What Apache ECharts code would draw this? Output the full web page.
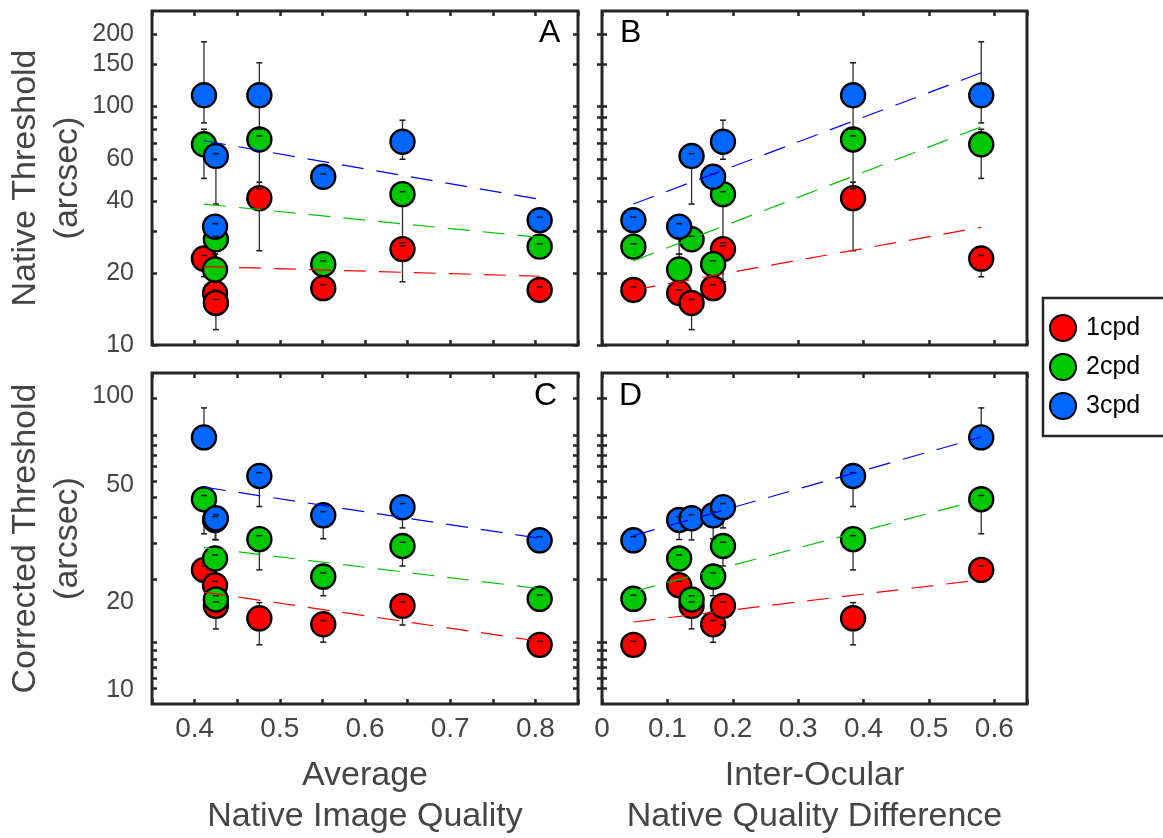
<!DOCTYPE html>
<html><head><meta charset="utf-8">
<script src="https://cdn.jsdelivr.net/npm/echarts@6/dist/echarts.min.js"></script>
<style>html,body{margin:0;padding:0;background:#fff}#c{width:1163px;height:838px}</style>
</head><body><div id="c"></div>
<script>
// ---------------- data ----------------
const seriesNames = ['1cpd', '2cpd', '3cpd'];
// one entry per subject
const avgQuality   = [0.411, 0.424, 0.425, 0.476, 0.551, 0.644, 0.805];
const ioDifference = [0.580, 0.118, 0.137, 0.384, 0.170, 0.185, 0.048];

const native1 = [23.0, 16.5, 15.0, 41.2, 17.3, 25.2, 17.0];
const native2 = [69.2, 20.7, 27.7, 72.5, 21.8, 42.8, 25.8];
const native3 = [111, 31.3, 61.8, 111, 50.6, 70.9, 33.3];
const nativeLo1 = [19.3, 16.5, 11.6, 24.8, 17.3, 18.4, 17.0];
const nativeHi1 = [23.7, 17.0, 15.5, 48.0, 17.9, 26.0, 17.5];
const nativeLo2 = [49.8, 20.7, 27.7, 45.0, 21.8, 26.8, 25.8];
const nativeHi2 = [80.0, 24.0, 28.5, 80.0, 22.5, 43.8, 26.5];
const nativeLo3 = [85.0, 24.0, 38.9, 75.0, 50.6, 59.9, 33.3];
const nativeHi3 = [185.8, 32.2, 63.2, 151.8, 52.0, 87.3, 34.3];

const corrected1 = [25.7, 22.8, 19.4, 17.6, 16.8, 19.4, 14.3];
const corrected2 = [44.7, 28.1, 20.4, 32.7, 24.4, 31.0, 20.5];
const corrected3 = [72.5, 38.0, 38.5, 53.6, 39.4, 42.0, 32.4];
const correctedLo1 = [25.7, 22.8, 16.2, 14.3, 14.6, 16.7, 14.3];
const correctedHi1 = [26.5, 23.5, 20.0, 19.9, 17.3, 20.0, 14.7];
const correctedLo2 = [34.1, 28.1, 20.4, 25.7, 21.0, 26.5, 20.5];
const correctedHi2 = [46.0, 28.9, 21.0, 33.6, 25.1, 31.9, 21.1];
const correctedLo3 = [72.5, 32.6, 32.5, 42.2, 32.8, 35.7, 32.4];
const correctedHi3 = [91.3, 39.0, 39.6, 55.0, 40.5, 43.2, 33.3];

// dashed fit lines (end points)
const trendAvgX  = [0.411, 0.805];
const trendDiffX = [0.048, 0.580];
const nativeTrendAvg1 = [21.3, 19.4];
const nativeTrendAvg2 = [38.9, 28.2];
const nativeTrendAvg3 = [71.6, 40.7];
const nativeTrendDiff1 = [17.0, 31.1];
const nativeTrendDiff2 = [22.5, 81.9];
const nativeTrendDiff3 = [38.9, 137.8];
const correctedTrendAvg1 = [21.6, 14.7];
const correctedTrendAvg2 = [30.6, 22.2];
const correctedTrendAvg3 = [49.1, 32.9];
const correctedTrendDiff1 = [17.1, 23.8];
const correctedTrendDiff2 = [21.7, 44.6];
const correctedTrendDiff3 = [33.6, 72.7];

// ticks and labels
const avgXLabels  = [0.4, 0.5, 0.6, 0.7, 0.8];
const diffXLabels = [0, 0.1, 0.2, 0.3, 0.4, 0.5, 0.6];
const nativeYTicks  = [10, 20, 30, 40, 50, 60, 70, 80, 90, 100, 150, 200];
const nativeYLabels = [10, 20, 40, 60, 100, 150, 200];
const correctedYTicks  = [10.2, 11.0, 12.0, 12.8, 13.7, 14.6, 23.8, 31.7, 38.7, 45.4, 51.4, 57.7, 63.1, 68.1, 73.6, 98.2];
const correctedYLabels = [10, 20, 50, 100];
const panelLetters = ['A', 'B', 'C', 'D'];

// ---------------- styling ----------------
const FONT = "'Liberation Sans', Arial, Helvetica, sans-serif";
const AXC = '#262626';
const TXT = '#454545';
const markerColors = ['#ff0000', '#00c800', '#0066ff'];
const trendColors  = ['#ff0000', '#00c400', '#0000ff'];

const grids = [
  {left: 152, top: 11, width: 426, height: 334},
  {left: 602, top: 11, width: 425, height: 334},
  {left: 152, top: 373, width: 426, height: 336},
  {left: 602, top: 373, width: 425, height: 336}
];

const panels = [
  {xs: avgQuality, ys: [native1, native2, native3], lo: [nativeLo1, nativeLo2, nativeLo3], hi: [nativeHi1, nativeHi2, nativeHi3],
   tx: trendAvgX, ty: [nativeTrendAvg1, nativeTrendAvg2, nativeTrendAvg3]},
  {xs: ioDifference, ys: [native1, native2, native3], lo: [nativeLo1, nativeLo2, nativeLo3], hi: [nativeHi1, nativeHi2, nativeHi3],
   tx: trendDiffX, ty: [nativeTrendDiff1, nativeTrendDiff2, nativeTrendDiff3]},
  {xs: avgQuality, ys: [corrected1, corrected2, corrected3], lo: [correctedLo1, correctedLo2, correctedLo3], hi: [correctedHi1, correctedHi2, correctedHi3],
   tx: trendAvgX, ty: [correctedTrendAvg1, correctedTrendAvg2, correctedTrendAvg3]},
  {xs: ioDifference, ys: [corrected1, corrected2, corrected3], lo: [correctedLo1, correctedLo2, correctedLo3], hi: [correctedHi1, correctedHi2, correctedHi3],
   tx: trendDiffX, ty: [correctedTrendDiff1, correctedTrendDiff2, correctedTrendDiff3]}
];

const tickStyle = {show: true, inside: true, length: 5, lineStyle: {color: AXC, width: 2.5}};

const xAxes = [], yAxes = [];
grids.forEach((g, p) => {
  const isAvg = (p % 2 === 0);
  const isTop = p < 2;
  const xBase = isAvg ? {min: 0.35, max: 0.85, interval: 0.05} : {min: 0, max: 0.65, interval: 0.1};
  const xName = !isTop ? (isAvg ? 'Average\nNative Image Quality' : 'Inter-Ocular\nNative Quality Difference') : '';
  xAxes.push(Object.assign({
    type: 'value', gridIndex: p, position: 'bottom',
    axisLine: {show: false}, splitLine: {show: false}, axisTick: tickStyle,
    axisLabel: {show: !isTop, customValues: isAvg ? avgXLabels : diffXLabels, fontSize: 28, color: TXT, fontFamily: FONT, margin: 11,
                formatter: v => String(v)},
    name: xName, nameLocation: 'middle', nameGap: 51,
    nameTextStyle: {fontSize: 34, color: TXT, fontFamily: FONT, lineHeight: 41}
  }, xBase));
  xAxes.push(Object.assign({
    type: 'value', gridIndex: p, position: 'top',
    axisLine: {show: false}, splitLine: {show: false}, axisTick: tickStyle, axisLabel: {show: false}
  }, xBase));

  const yBase = isTop ? {min: 10, max: 250} : {min: 9, max: 120};
  const yTicks = isTop ? nativeYTicks : correctedYTicks;
  const yLabels = isTop ? nativeYLabels : correctedYLabels;
  const yName = isAvg ? (isTop ? 'Native Threshold\n(arcsec)' : 'Corrected Threshold\n(arcsec)') : '';
  yAxes.push(Object.assign({
    type: 'log', logBase: 10, gridIndex: p, position: 'left',
    axisLine: {show: false}, splitLine: {show: false},
    axisTick: Object.assign({customValues: yTicks}, tickStyle),
    axisLabel: {show: isAvg, customValues: yLabels, fontSize: 25, color: TXT, fontFamily: FONT, margin: 18,
                formatter: v => String(v)},
    name: yName, nameLocation: 'middle', nameGap: 60, nameRotate: 90,
    nameTextStyle: {fontSize: 34, color: TXT, fontFamily: FONT, lineHeight: 42}
  }, yBase));
  yAxes.push(Object.assign({
    type: 'log', logBase: 10, gridIndex: p, position: 'right',
    axisLine: {show: false}, splitLine: {show: false},
    axisTick: Object.assign({customValues: yTicks}, tickStyle),
    axisLabel: {show: false}
  }, yBase));
});

// error bar: data item = [x, lo, hi, value]
function errLine(params, api) {
  const a = api.coord([api.value(0), api.value(1)]);
  const b = api.coord([api.value(0), api.value(2)]);
  return {type: 'line', shape: {x1: a[0], y1: a[1], x2: b[0], y2: b[1]},
          style: {stroke: '#303030', lineWidth: 1.3}};
}
function errCaps(params, api) {
  const x = api.value(0), lo = api.value(1), hi = api.value(2), v = api.value(3);
  const a = api.coord([x, lo]);
  const b = api.coord([x, hi]);
  const w = 3;
  const kids = [];
  if (lo < v) kids.push({type: 'line', shape: {x1: a[0] - w, y1: a[1], x2: a[0] + w, y2: a[1]}, style: {stroke: '#1a1a1a', lineWidth: 1.5}});
  if (hi > v) kids.push({type: 'line', shape: {x1: b[0] - w, y1: b[1], x2: b[0] + w, y2: b[1]}, style: {stroke: '#1a1a1a', lineWidth: 1.5}});
  return {type: 'group', children: kids};
}

const series = [];
panels.forEach((pn, p) => {
  const axIdx = {xAxisIndex: 2 * p, yAxisIndex: 2 * p};
  const errOf = c => pn.xs.map((x, i) => [x, pn.lo[c][i], pn.hi[c][i], pn.ys[c][i]]);
  for (let c = 0; c < 3; c++) {
    series.push(Object.assign({
      type: 'custom', name: 'err', renderItem: errLine, data: errOf(c),
      encode: {x: 0, y: [1, 2]}, z: 1, silent: true, clip: false
    }, axIdx));
  }
  for (let c = 0; c < 3; c++) {
    series.push(Object.assign({
      type: 'scatter', name: seriesNames[c], symbol: 'circle', symbolSize: 24, z: 2,
      itemStyle: {color: markerColors[c], borderColor: '#000', borderWidth: 2.4, opacity: 1},
      data: pn.xs.map((x, i) => [x, pn.ys[c][i]]), silent: true
    }, axIdx));
  }
  for (let c = 0; c < 3; c++) {
    series.push(Object.assign({
      type: 'custom', name: 'cap', renderItem: errCaps, data: errOf(c),
      encode: {x: 0, y: [1, 2]}, z: 3, silent: true, clip: false
    }, axIdx));
  }
  for (let c = 0; c < 3; c++) {
    series.push(Object.assign({
      type: 'line', name: 'fit' + c, symbol: 'none', z: 4, silent: true,
      lineStyle: {color: trendColors[c], width: 1.2, type: [22, 13]},
      data: pn.tx.map((x, i) => [x, pn.ty[c][i]])
    }, axIdx));
  }
});

const letterPos = [
  {left: 539, top: 17}, {left: 620, top: 17}, {left: 534, top: 380}, {left: 619, top: 380}
];
const graphic = panelLetters.map((t, i) => ({
  type: 'text', left: letterPos[i].left, top: letterPos[i].top, z: 10,
  style: {text: t, fontSize: 32, fill: '#000', fontFamily: FONT}
}));

const chart = echarts.init(document.getElementById('c'), null, {renderer: 'canvas'});
chart.setOption({
  animation: false,
  backgroundColor: '#fff',
  grid: grids.map(g => Object.assign({show: true, borderColor: AXC, borderWidth: 3, backgroundColor: '#fff'}, g)),
  xAxis: xAxes,
  yAxis: yAxes,
  legend: {
    data: seriesNames, orient: 'vertical', left: 1043, top: 298,
    padding: [16, 30, 16, 6], itemGap: 11, itemWidth: 36, itemHeight: 26, icon: 'circle',
    borderColor: AXC, borderWidth: 2.5, backgroundColor: '#fff',
    textStyle: {fontSize: 25, color: '#000', fontFamily: FONT}, selectedMode: false
  },
  graphic: graphic,
  series: series
});
</script>
</body></html>
